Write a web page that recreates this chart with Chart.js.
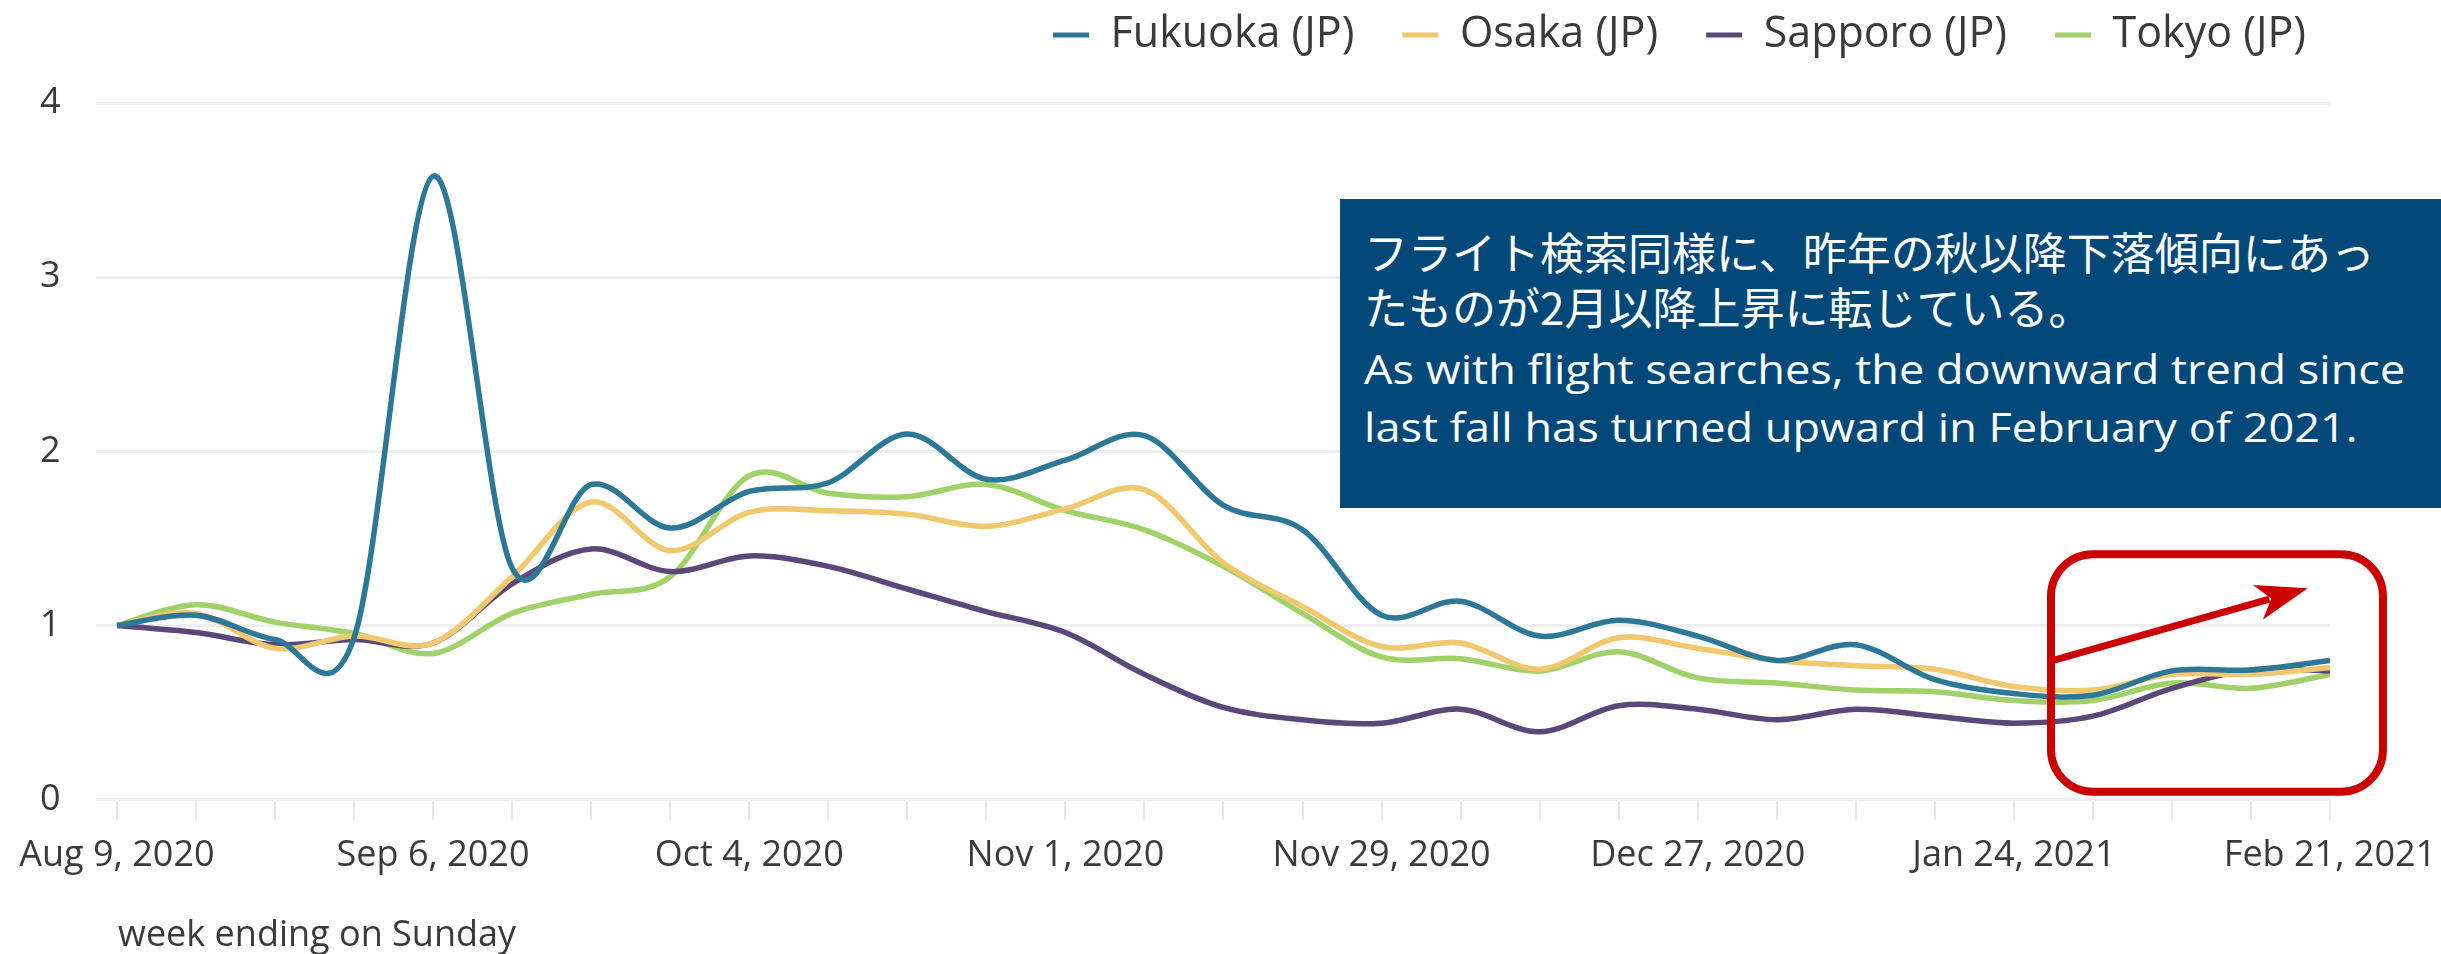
<!DOCTYPE html>
<html>
<head>
<meta charset="utf-8">
<script src="https://cdn.jsdelivr.net/npm/chart.js@4.4.1/dist/chart.umd.min.js"></script>
<style>
  html, body { margin: 0; padding: 0; background: #ffffff; }
  #wrap { position: relative; width: 2441px; height: 954px; overflow: hidden; }
  #c { position: absolute; left: 0; top: 0; }
  #xtitle { position: absolute; left: 118px; top: 913px; font: 36px 'Open Sans', sans-serif; line-height: 40px; color: #3a3a3a; white-space: nowrap; }
  #note { position: absolute; left: 1340px; top: 199px; width: 1101px; height: 309px; background: #02497a; color: #ffffff; }
  #note div { position: absolute; left: 24px; white-space: nowrap; line-height: 57px; }
  .jp { font-family: 'Noto Sans CJK JP', sans-serif; font-size: 44px; }
  .en { font-family: 'Open Sans', sans-serif; font-size: 41px; transform: scaleX(1.1); transform-origin: 0 50%; }
</style>
</head>
<body>
<div id="wrap">
  <canvas id="c" width="2441" height="954"></canvas>
  <div id="xtitle">week ending on Sunday</div>
  <div id="note">
    <div class="jp" style="top:24px">フライト検索同様に、昨年の秋以降下落傾向にあっ</div>
    <div class="jp" style="top:79px">たものが2月以降上昇に転じている。</div>
    <div class="en" style="top:141px">As with flight searches, the downward trend since</div>
    <div class="en" style="top:199px">last fall has turned upward in February of 2021.</div>
  </div>
</div>
<script>
// ---- data ----
const weeks = [
  'Aug 9, 2020', 'Aug 16, 2020', 'Aug 23, 2020', 'Aug 30, 2020',
  'Sep 6, 2020', 'Sep 13, 2020', 'Sep 20, 2020', 'Sep 27, 2020',
  'Oct 4, 2020', 'Oct 11, 2020', 'Oct 18, 2020', 'Oct 25, 2020',
  'Nov 1, 2020', 'Nov 8, 2020', 'Nov 15, 2020', 'Nov 22, 2020',
  'Nov 29, 2020', 'Dec 6, 2020', 'Dec 13, 2020', 'Dec 20, 2020',
  'Dec 27, 2020', 'Jan 3, 2021', 'Jan 10, 2021', 'Jan 17, 2021',
  'Jan 24, 2021', 'Jan 31, 2021', 'Feb 7, 2021', 'Feb 14, 2021',
  'Feb 21, 2021'
];
const seriesNames = ['Fukuoka (JP)', 'Osaka (JP)', 'Sapporo (JP)', 'Tokyo (JP)'];
const fukuoka = [1.00, 1.06, 0.92, 0.93, 3.58, 1.33, 1.81, 1.56, 1.77, 1.82, 2.10, 1.84, 1.95, 2.09, 1.69, 1.55, 1.06, 1.14, 0.94, 1.03, 0.94, 0.80, 0.89, 0.69, 0.61, 0.60, 0.74, 0.745, 0.80];
const osaka   = [1.00, 1.07, 0.87, 0.94, 0.90, 1.28, 1.71, 1.43, 1.65, 1.66, 1.64, 1.57, 1.67, 1.78, 1.36, 1.11, 0.88, 0.90, 0.75, 0.93, 0.87, 0.80, 0.77, 0.75, 0.65, 0.63, 0.72, 0.72, 0.76];
const sapporo = [1.00, 0.96, 0.89, 0.92, 0.90, 1.24, 1.44, 1.31, 1.40, 1.34, 1.21, 1.08, 0.96, 0.72, 0.53, 0.46, 0.44, 0.52, 0.39, 0.54, 0.52, 0.46, 0.52, 0.48, 0.44, 0.48, 0.64, 0.745, 0.74];
const tokyo   = [1.00, 1.12, 1.02, 0.955, 0.84, 1.07, 1.18, 1.28, 1.86, 1.76, 1.74, 1.81, 1.66, 1.55, 1.34, 1.07, 0.82, 0.81, 0.74, 0.85, 0.70, 0.67, 0.63, 0.62, 0.57, 0.57, 0.67, 0.64, 0.72];
const yTicks = [0, 1, 2, 3, 4];

// ---- styles ----
const colors = ['#2d7896', '#f0c86e', '#5a4878', '#a0d269'];
const textColor = '#3a3a3a';
const X_MIN = -0.27;

Chart.defaults.font.family = "'Open Sans', sans-serif";
Chart.defaults.color = textColor;

const seriesValues = [fukuoka, osaka, sapporo, tokyo];
const datasets = seriesNames.map((name, s) => ({
  label: name,
  data: seriesValues[s].map((v, i) => ({ x: i, y: v })),
  borderColor: colors[s],
  backgroundColor: colors[s],
  borderWidth: 5.5,
  pointRadius: 0,
  pointHoverRadius: 0,
  tension: 0.4,
  fill: false
}));

// uniform Catmull-Rom smoothing (overshooting spline, like the original)
const catmullRom = {
  id: 'catmullRom',
  beforeDatasetDraw(chart, args) {
    const meta = args.meta;
    const line = meta.dataset;
    line.updateControlPoints(chart.chartArea, meta.iScale.axis);
    const pts = meta.data;
    for (let i = 0; i < pts.length; i++) {
      const p = pts[i];
      const a = pts[Math.max(i - 1, 0)];
      const b = pts[Math.min(i + 1, pts.length - 1)];
      const dx = (b.x - a.x) / 6, dy = (b.y - a.y) / 6;
      p.cp1x = p.x - dx; p.cp1y = p.y - dy;
      p.cp2x = p.x + dx; p.cp2y = p.y + dy;
    }
    line._path = undefined;
  }
};

// legend placement (right-aligned text ending near x=2306, centred on y≈33)
const legendPlace = {
  id: 'legendPlace',
  afterLayout(chart) {
    const lg = chart.legend;
    const dx = 2354 - lg.right;
    lg.left += dx; lg.right += dx;
    lg.top -= 36.5; lg.bottom -= 36.5;
  }
};

// red highlight box with arrow
const highlight = {
  id: 'highlight',
  afterDraw(chart) {
    const ctx = chart.ctx;
    const xs = chart.scales.x, ys = chart.scales.y;
    const L = xs.getPixelForValue(24.47), R = xs.getPixelForValue(28.67);
    const T = ys.getPixelForValue(1.41), B = ys.getPixelForValue(0.046);
    ctx.save();
    ctx.strokeStyle = '#cc0000';
    ctx.fillStyle = '#cc0000';
    ctx.lineWidth = 8;
    ctx.beginPath();
    ctx.roundRect(L, T, R - L, B - T, 42);
    ctx.stroke();
    const x0 = xs.getPixelForValue(24.5), y0 = ys.getPixelForValue(0.80);
    const x1 = xs.getPixelForValue(27.72), y1 = ys.getPixelForValue(1.215);
    const len = Math.hypot(x1 - x0, y1 - y0);
    const ux = (x1 - x0) / len, uy = (y1 - y0) / len;
    const px = -uy, py = ux;
    ctx.lineWidth = 7;
    ctx.beginPath();
    ctx.moveTo(x0, y0);
    ctx.lineTo(x1 - 40 * ux, y1 - 40 * uy);
    ctx.stroke();
    ctx.beginPath();
    ctx.moveTo(x1, y1);
    ctx.lineTo(x1 - 52 * ux + 18 * px, y1 - 52 * uy + 18 * py);
    ctx.lineTo(x1 - 38 * ux, y1 - 38 * uy);
    ctx.lineTo(x1 - 52 * ux - 18 * px, y1 - 52 * uy - 18 * py);
    ctx.closePath();
    ctx.fill();
    ctx.restore();
  }
};

new Chart(document.getElementById('c'), {
  type: 'line',
  data: { datasets },
  options: {
    responsive: false,
    animation: false,
    events: [],
    layout: { padding: { left: 5, right: 111, top: 2, bottom: 63 } },
    plugins: {
      tooltip: { enabled: false },
      legend: {
        display: true,
        position: 'top',
        align: 'end',
        labels: {
          boxWidth: 36,
          boxHeight: 5,
          padding: 48,
          color: textColor,
          font: { size: 43, lineHeight: 1 },
          generateLabels(chart) {
            return chart.data.datasets.map((ds, i) => ({
              text: ds.label,
              fillStyle: ds.borderColor,
              strokeStyle: ds.borderColor,
              lineWidth: 0,
              hidden: false,
              datasetIndex: i,
              fontColor: textColor
            }));
          }
        }
      }
    },
    scales: {
      x: {
        type: 'linear',
        min: X_MIN,
        max: weeks.length - 1,
        afterBuildTicks(axis) { axis.ticks = weeks.map((_, i) => ({ value: i })); },
        afterFit(axis) { axis.paddingLeft = 0; axis.paddingRight = 0; },
        ticks: {
          autoSkip: false,
          maxRotation: 0,
          minRotation: 0,
          padding: 14,
          color: textColor,
          font: { size: 36 },
          callback: (v) => (Number.isInteger(v) && v % 4 === 0 ? weeks[v] : '')
        },
        grid: { drawOnChartArea: false, drawTicks: true, tickLength: 20, color: '#e6e6e6', lineWidth: 2 },
        border: { display: false }
      },
      y: {
        min: 0,
        max: 4,
        afterBuildTicks(axis) { axis.ticks = yTicks.map(v => ({ value: v })); },
        ticks: { padding: 35, color: textColor, font: { size: 36 } },
        grid: { color: '#efefef', lineWidth: 3, drawTicks: false },
        border: { display: false }
      }
    }
  },
  plugins: [catmullRom, legendPlace, highlight]
});
</script>
</body>
</html>
